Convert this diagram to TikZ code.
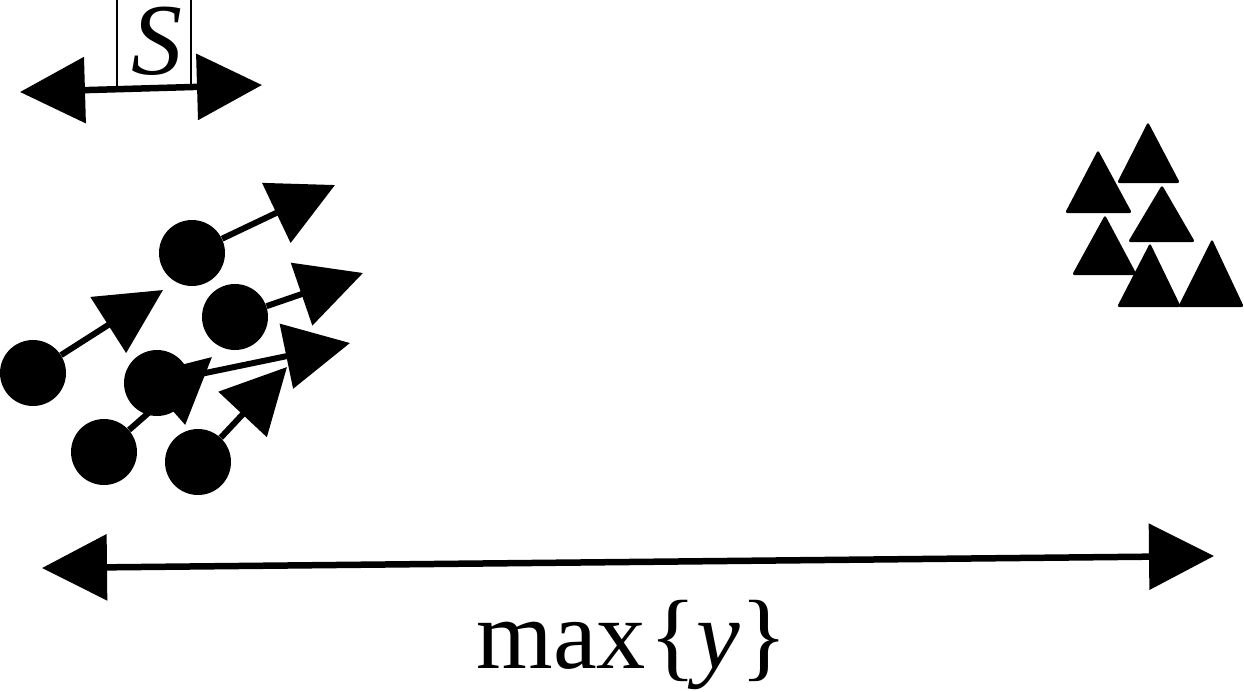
\documentclass[tikz,border=0pt]{standalone}
\usepackage{fontspec}
\setmainfont{Liberation Serif}
\usetikzlibrary{arrows.meta}
\begin{document}
\begin{tikzpicture}[x=0.02cm,y=-0.02cm,
  dot/.style={circle,fill=black,inner sep=0pt,minimum size=1.32cm},
  arr/.style={line width=0.12cm,-{Triangle[length=1.3cm,width=1.3cm]}},
  dblarr/.style={line width=0.13cm,{Triangle[length=1.3cm,width=1.3cm]}-{Triangle[length=1.3cm,width=1.3cm]}},
  sbox/.style={draw,line width=0.05cm,minimum width=1.48cm,minimum height=2.4cm,inner sep=0pt},
  tri/.style={fill=black,rounded corners=0.05cm},
  bigtext/.style={font=\fontsize{56}{60}\selectfont,inner sep=0pt}
]
\useasboundingbox (0,0) rectangle (1244,691);
\fill[white] (0,0) rectangle (1244,691);

% S box and top arrow
\node[sbox] (sb) at (154,28) {};
\node[font=\fontsize{58}{62}\selectfont,inner sep=0pt] (s) at (157,41) {\textit{S}};
\coordinate (tl) at (20,92);
\coordinate (tr) at (262,85);
\draw[dblarr] (tl) -- (tr);

% circles
\node[dot] (c1) at (192,253) {};
\node[dot] (c2) at (235,317) {};
\node[dot] (c3) at (33,373) {};
\node[dot] (c4) at (157,383) {};
\node[dot] (c5) at (104,452) {};
\node[dot] (c6) at (198,462) {};
\coordinate (h1) at (335,185);
\coordinate (h2) at (363,273);
\coordinate (h3) at (163,290);
\coordinate (h4) at (350,343);
\coordinate (h5) at (212,357);
\coordinate (h6) at (287,367);
\draw[arr] (c1) -- (h1);
\draw[arr] (c2) -- (h2);
\draw[arr] (c3) -- (h3);
\draw[arr] (c4) -- (h4);
\draw[arr] (c5) -- (h5);
\draw[arr] (c6) -- (h6);

% triangles
\fill[tri] (1148,122) -- (1180,183) -- (1117,183) -- cycle;
\fill[tri] (1098,150) -- (1132,213) -- (1065,213) -- cycle;
\fill[tri] (1162,185) -- (1195,242) -- (1128,242) -- cycle;
\fill[tri] (1105,215) -- (1137,275) -- (1072,275) -- cycle;
\fill[tri] (1150,243) -- (1181,307) -- (1117,307) -- cycle;
\fill[tri] (1212,239) -- (1244,307) -- (1178,307) -- cycle;

% bottom arrow
\coordinate (bl) at (42,568);
\coordinate (br) at (1214,556);
\draw[dblarr] (bl) -- (br);
\node[bigtext,anchor=base] (lab) at (632,668) {max\hspace{0.03em}\{\textit{y}\}};
\end{tikzpicture}
\end{document}
